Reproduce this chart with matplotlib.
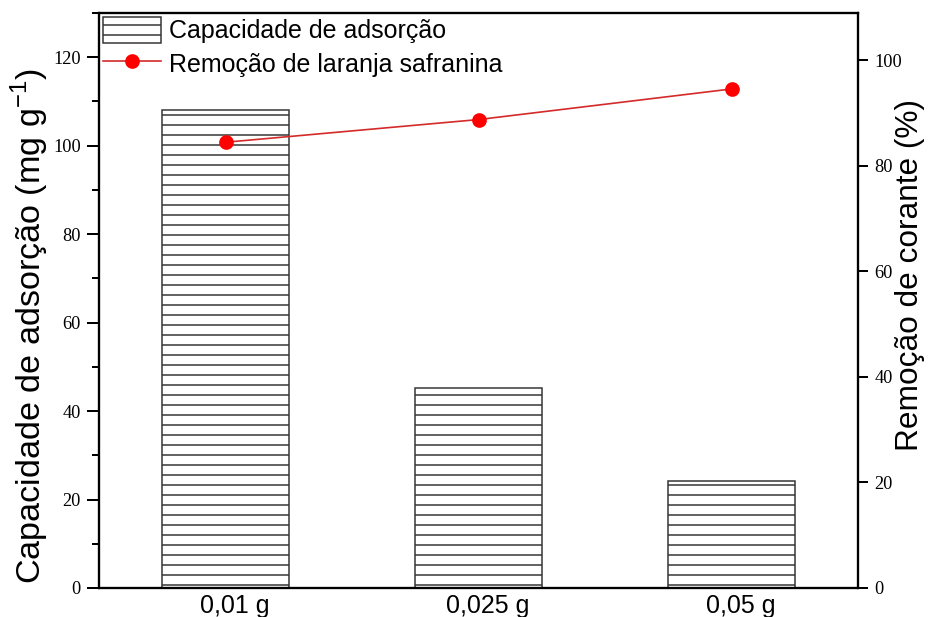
import matplotlib
matplotlib.use("Agg")
import matplotlib.pyplot as plt
import matplotlib.transforms as mtransforms
from matplotlib.ticker import MultipleLocator

categories = ["0,01 g", "0,025 g", "0,05 g"]
capacidade = [108.0, 45.3, 24.2]
remocao = [84.5, 88.8, 94.6]

DPI = 120
plt.rcParams['hatch.linewidth'] = 0.9
fig = plt.figure(figsize=(928 / DPI, 617 / DPI), dpi=DPI)
L, R, T, B = 99, 858, 13, 588
ax = fig.add_axes([L / 928, 1 - B / 617, (R - L) / 928, (B - T) / 617])
ax2 = ax.twinx()

x = list(range(len(categories)))
ax.bar(x, capacidade, width=0.5, facecolor='white', edgecolor='#333333',
       hatch='--', linewidth=0.9, label='Capacidade de adsorção', zorder=2)
ax2.plot(x, remocao, color='#d42a2a', lw=1.0, marker='o', markersize=7.8,
         markerfacecolor='#ff0000', markeredgecolor='#ff0000',
         label='Remoção de laranja safranina')

ax.set_xlim(-0.5, 2.5)
ax.set_ylim(0, 130)
ax2.set_ylim(0, 109)

ax.set_xticks(x)
ax.set_xticklabels(categories, family='Liberation Sans', fontsize=15)
ax.tick_params(axis='x', length=0, pad=3.5)
offset = mtransforms.ScaledTranslation(9 / DPI, 0, fig.dpi_scale_trans)
for lab in ax.get_xticklabels():
    lab.set_transform(lab.get_transform() + offset)

ax.set_yticks([0, 20, 40, 60, 80, 100, 120])
ax.yaxis.set_minor_locator(MultipleLocator(10))
ax.tick_params(axis='y', which='major', direction='out', length=7, width=1.2,
               labelsize=11, pad=4)
ax.tick_params(axis='y', which='minor', direction='out', length=4.5, width=1.2)
for lab in ax.get_yticklabels():
    lab.set_family('Liberation Serif')

ax2.set_yticks([0, 20, 40, 60, 80, 100])
ax2.tick_params(axis='y', which='major', direction='out', length=6, width=1.2,
                labelsize=11, pad=4)
for lab in ax2.get_yticklabels():
    lab.set_family('Liberation Serif')

for a in (ax, ax2):
    for s in a.spines.values():
        s.set_linewidth(1.3)

ax.set_ylabel('Capacidade de adsorção (mg g$^{\\mathregular{-1}}$)',
              family='Liberation Sans', fontsize=20.5)
ax.yaxis.set_label_coords(-0.063, 0.455)
ax2.set_ylabel('Remoção de corante (%)', family='Liberation Sans',
               fontsize=19)
ax2.yaxis.set_label_coords(1.049, 0.545)

h1, l1 = ax.get_legend_handles_labels()
h2, l2 = ax2.get_legend_handles_labels()
leg = ax2.legend(h1 + h2, l1 + l2, loc='upper left', frameon=False,
                 prop={'family': 'Liberation Sans', 'size': 15},
                 bbox_to_anchor=(4 / (R - L), 1 - 4 / (B - T)),
                 borderaxespad=0.0, borderpad=0.0, handlelength=2.3,
                 handleheight=1.2, handletextpad=0.35, labelspacing=0.3)

fig.savefig('out.png', dpi=DPI)
